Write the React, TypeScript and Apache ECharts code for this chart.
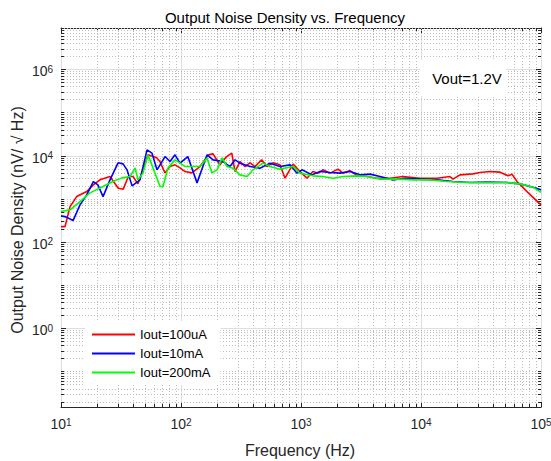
import React, { useEffect, useRef } from 'react';
import * as echarts from 'echarts';

// ---------- texts ----------
const chartTitle = 'Output Noise Density vs. Frequency';
const xAxisName = 'Frequency (Hz)';
const yAxisName = 'Output Noise Density (nV/ \u221A Hz)';
const annotation = 'Vout=1.2V';
const seriesNames = ['Iout=100uA', 'Iout=10mA', 'Iout=200mA'];
const seriesColors = ['#ff0000', '#0000ff', '#00ff00'];

// ---------- axis ranges ----------
const X_MIN = 10;
const X_MAX = 1e5;
const Y_MIN = 0.015;
const Y_MAX = 9e6;

// ---------- data: Iout = 100uA ----------
const freq100uA = [10, 10.8, 11.9, 13.5, 16.4, 18.6, 21.1, 25.6, 30.0, 33.0, 36.4, 39.8, 43.8, 48.2, 53.1, 62.7, 66.8, 73.6, 81.0, 89.1, 98.1, 108, 123, 144, 169, 185, 211, 240, 265, 282, 310, 341, 376, 414, 470, 521, 584, 668, 736, 858, 981, 1122, 1259, 1386, 1525, 1745, 2034, 2239, 2561, 2929, 3548, 4299, 5516, 7079, 9810, 13594, 17444, 18478, 21135, 27130, 31020, 37580, 45530, 53090, 57310, 63100, 76420, 100000];
const noise100uA = [226, 226, 658, 1122, 1465, 2095, 2735, 3260, 1756, 1665, 3260, 3260, 2210, 4670, 10380, 8850, 7260, 3970, 5560, 6090, 5190, 4260, 3970, 5560, 10380, 10940, 6090, 9480, 11370, 4260, 7260, 5560, 6780, 5560, 7950, 5560, 6780, 6090, 2990, 6320, 4260, 2990, 4260, 3910, 4670, 3910, 4840, 3910, 4490, 3440, 3260, 2990, 2990, 3260, 2990, 2990, 3260, 2840, 3570, 3770, 4040, 4260, 4125, 3390, 3710, 2500, 1465, 720];

// ---------- data: Iout = 10mA ----------
const freq10mA = [10, 11.0, 12.6, 14.4, 16.2, 18.6, 20.3, 22.4, 25.6, 29.9, 32.9, 35.5, 39.1, 45.5, 52.1, 57.3, 63.1, 73.6, 81.0, 89.1, 98.1, 114, 136, 165, 185, 224, 256, 282, 310, 376, 455, 552, 668, 810, 926, 1019, 1235, 1440, 1745, 2113, 2561, 3103, 3758, 4552, 5843, 7356, 9810, 13594, 18478, 25610, 35480, 52070, 66830, 85770, 100000];
const noise10mA = [401, 380, 312, 720, 1164, 2500, 2095, 1122, 2735, 6780, 6420, 4670, 1985, 2735, 13550, 11370, 4670, 9480, 7260, 10380, 6670, 9480, 2330, 10380, 7950, 7260, 5560, 7950, 6670, 5560, 5100, 6670, 5560, 6090, 3910, 4670, 3570, 4260, 4040, 3910, 4260, 3570, 3710, 3260, 2735, 2990, 2840, 2735, 2500, 2370, 2420, 2370, 2210, 1853, 1603];

// ---------- data: Iout = 200mA ----------
const freq200mA = [10, 11.9, 14.4, 17.4, 22.4, 27.1, 32.2, 37.6, 41.4, 43.8, 48.2, 53.1, 58.4, 66.8, 70.8, 77.9, 89.1, 98.1, 108, 126, 144, 165, 181, 200, 220, 242, 271, 310, 355, 398, 482, 552, 668, 858, 981, 1259, 1525, 1848, 2239, 2929, 3548, 4552, 6310, 8577, 11885, 16467, 24170, 35480, 52070, 66830, 85770, 100000];
const noise200mA = [504, 552, 859, 1367, 1913, 2500, 3040, 3260, 5190, 2735, 3910, 10380, 5190, 1913, 1913, 5190, 7950, 6670, 5560, 5560, 5560, 8710, 3970, 4670, 8850, 5560, 5100, 3570, 3260, 4670, 6670, 5560, 4840, 5560, 3910, 3390, 3260, 2990, 3260, 3390, 3260, 2840, 2840, 2735, 2735, 2500, 2370, 2370, 2370, 2210, 1853, 1403];

const seriesFreqs = [freq100uA, freq10mA, freq200mA];
const seriesNoise = [noise100uA, noise10mA, noise200mA];

const FONT = '"Liberation Sans", Arial, Helvetica, sans-serif';
const AXIS_COLOR = '#262626';

// grid / tick definitions for the log axes: [x, y, kind]
// kind 0: x minor, 1: x major, 2: y minor, 3: y major
function buildGridLines(): number[][] {
  const items: number[][] = [];
  for (let e = 1; e <= 4; e++) {
    for (let k = 1; k <= 9; k++) items.push([k * Math.pow(10, e), 1, k === 1 ? 1 : 0]);
  }
  items.push([1e5, 1, 1]);
  for (let e = -2; e <= 6; e++) {
    for (let k = 1; k <= 9; k++) {
      const v = k * Math.pow(10, e);
      if (v < Y_MIN || v > Y_MAX) continue;
      items.push([100, v, k === 1 && Math.abs(e % 2) === 0 ? 3 : 2]);
    }
  }
  return items;
}

function expLabel(value: number, onlyEven: boolean): string {
  const l = Math.log10(value);
  const e = Math.round(l);
  if (Math.abs(l - e) > 1e-6) return '';
  if (onlyEven && Math.abs(e % 2) === 1) return '';
  return `{b|10}{s|${e}}`;
}

const labelRich = {
  b: { fontSize: 14, fontFamily: FONT, color: AXIS_COLOR, lineHeight: 18, verticalAlign: 'top' },
  s: { fontSize: 10, fontFamily: FONT, color: AXIS_COLOR, lineHeight: 6, verticalAlign: 'top' },
};

export default function App() {
  const ref = useRef<HTMLDivElement>(null);

  useEffect(() => {
    if (!ref.current) return;
    const chart = echarts.init(ref.current, undefined, { renderer: 'svg' });

    const gridRenderItem = (params: any, api: any) => {
      const cs = params.coordSys;
      const kind = api.value(2);
      const p = api.coord([api.value(0), api.value(1)]);
      const major = kind === 1 || kind === 3;
      const gridStyle = major
        ? { stroke: '#dedede', lineWidth: 1, fill: null }
        : { stroke: '#bdbdbd', lineWidth: 1, lineDash: [1, 2], fill: null };
      const tickLen = major ? 5 : 3;
      const tickStyle = { stroke: AXIS_COLOR, lineWidth: 1, fill: null };
      const children: any[] = [];
      if (kind < 2) {
        const x = Math.round(p[0]) + 0.5;
        const y0 = cs.y;
        const y1 = cs.y + cs.height;
        children.push({ type: 'line', shape: { x1: x, y1: y0, x2: x, y2: y1 }, style: gridStyle });
        children.push({ type: 'line', shape: { x1: x, y1: y1, x2: x, y2: y1 - tickLen }, style: tickStyle });
        children.push({ type: 'line', shape: { x1: x, y1: y0, x2: x, y2: y0 + tickLen }, style: tickStyle });
      } else {
        const y = Math.round(p[1]) + 0.5;
        const x0 = cs.x;
        const x1 = cs.x + cs.width;
        children.push({ type: 'line', shape: { x1: x0, y1: y, x2: x1, y2: y }, style: gridStyle });
        children.push({ type: 'line', shape: { x1: x0, y1: y, x2: x0 + tickLen, y2: y }, style: tickStyle });
        children.push({ type: 'line', shape: { x1: x1, y1: y, x2: x1 - tickLen, y2: y }, style: tickStyle });
      }
      return { type: 'group', children };
    };

    const frameAxis = {
      axisLine: { show: true, lineStyle: { color: AXIS_COLOR, width: 1 } },
      axisTick: { show: false },
      splitLine: { show: false },
      minorTick: { show: false },
      minorSplitLine: { show: false },
    };

    const lineSeries = seriesNames.map((name, i) => ({
      name,
      type: 'line',
      xAxisIndex: 0,
      yAxisIndex: 0,
      data: seriesFreqs[i].map((f, j) => [f, seriesNoise[i][j]]),
      showSymbol: false,
      symbol: 'none',
      lineStyle: { color: seriesColors[i], width: 1.6 },
      itemStyle: { color: seriesColors[i] },
      z: 3,
    }));

    const option: any = {
      animation: false,
      backgroundColor: '#ffffff',
      grid: { left: 61, right: 10, top: 28, bottom: 54, containLabel: false, outerBoundsMode: 'none' },
      xAxis: [
        {
          type: 'log',
          logBase: 10,
          min: X_MIN,
          max: X_MAX,
          splitNumber: 4,
          position: 'bottom',
          ...frameAxis,
          axisLabel: {
            show: true,
            margin: 10,
            formatter: (v: number) => expLabel(v, false),
            rich: labelRich,
          },
        },
        {
          type: 'log',
          logBase: 10,
          min: X_MIN,
          max: X_MAX,
          splitNumber: 4,
          position: 'top',
          ...frameAxis,
          axisLabel: { show: false },
        },
      ],
      yAxis: [
        {
          type: 'log',
          logBase: 10,
          min: Y_MIN,
          max: Y_MAX,
          splitNumber: 9,
          position: 'left',
          ...frameAxis,
          axisLabel: {
            show: true,
            margin: 8,
            padding: [8, 0, 0, 0],
            showMinLabel: false,
            showMaxLabel: false,
            formatter: (v: number) => expLabel(v, true),
            rich: labelRich,
          },
        },
        {
          type: 'log',
          logBase: 10,
          min: Y_MIN,
          max: Y_MAX,
          splitNumber: 9,
          position: 'right',
          ...frameAxis,
          axisLabel: { show: false },
        },
      ],
      legend: {
        data: seriesNames,
        orient: 'vertical',
        left: 85,
        top: 321,
        padding: [6, 10, 5, 7],
        backgroundColor: '#ffffff',
        borderWidth: 0,
        icon: 'rect',
        itemWidth: 43,
        itemHeight: 2,
        itemGap: 4,
        selectedMode: false,
        textStyle: { fontSize: 13, fontFamily: FONT, color: '#000000', lineHeight: 15 },
      },
      graphic: [
        {
          type: 'text',
          x: 285,
          y: 17,
          style: { text: chartTitle, font: `15px ${FONT}`, fill: '#000000', align: 'center', verticalAlign: 'middle' },
        },
        {
          type: 'text',
          x: 17,
          y: 220,
          rotation: Math.PI / 2,
          style: { text: yAxisName, font: `16px ${FONT}`, fill: AXIS_COLOR, align: 'center', verticalAlign: 'middle' },
        },
        {
          type: 'text',
          x: 300,
          y: 450,
          style: { text: xAxisName, font: `16px ${FONT}`, fill: AXIS_COLOR, align: 'center', verticalAlign: 'middle' },
        },
        {
          type: 'rect',
          z: 100,
          shape: { x: 420, y: 60, width: 86, height: 36 },
          style: { fill: '#ffffff' },
        },
        {
          type: 'text',
          z: 101,
          x: 467,
          y: 78,
          style: { text: annotation, font: `15px ${FONT}`, fill: '#000000', align: 'center', verticalAlign: 'middle' },
        },
      ],
      series: [
        {
          name: 'grid',
          type: 'custom',
          coordinateSystem: 'cartesian2d',
          xAxisIndex: 0,
          yAxisIndex: 0,
          data: buildGridLines(),
          encode: { x: 0, y: 1 },
          renderItem: gridRenderItem,
          silent: true,
          clip: false,
          z: 1,
        },
        ...lineSeries,
      ],
    };

    chart.setOption(option);
    return () => chart.dispose();
  }, []);

  return (
    <div
      ref={ref}
      style={{ position: 'fixed', left: 0, top: 0, width: 551, height: 461, background: '#ffffff' }}
    />
  );
}
